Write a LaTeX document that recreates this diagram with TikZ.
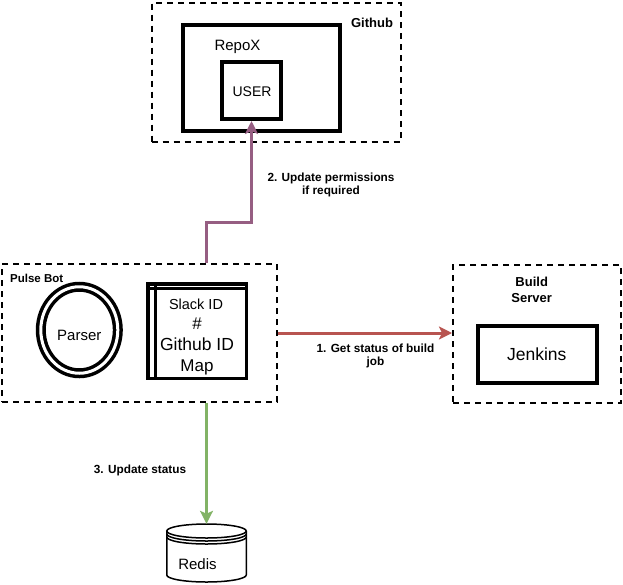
\documentclass[tikz,border=0pt]{standalone}
\usepackage{fontspec}
\setmainfont{Liberation Sans}
\usetikzlibrary{arrows.meta,shapes.geometric}
\definecolor{redarrow}{HTML}{B85450}
\definecolor{purplearrow}{RGB}{150,94,130}
\definecolor{greenarrow}{HTML}{82B366}
\begin{document}
\begin{tikzpicture}[x=1pt,y=-1pt,
  grp/.style={draw, rectangle, line width=2pt, dash pattern=on 6pt off 5pt, inner sep=0pt},
  heavybox/.style={draw, rectangle, line width=4pt, inner sep=0pt},
  txt/.style={font=\fontsize{15}{18}\selectfont, anchor=base, inner sep=0pt},
  grplbl/.style={font=\fontsize{13}{16}\selectfont\bfseries, align=center, anchor=base, inner sep=0pt},
  elbl/.style={font=\fontsize{11.8}{12.8}\selectfont\bfseries, align=center, anchor=base, inner sep=0pt},
  conn/.style={line width=3pt, -{Stealth[length=13pt,width=13pt,inset=3pt]}}
]
\useasboundingbox (0,0) rectangle (623,584);

% groups
\node[grp, minimum width=249, minimum height=139] (github) at (276,72) {};
\node[grp, minimum width=275, minimum height=138] (pulsebot) at (139.5,333) {};
\node[grp, minimum width=168, minimum height=138] (buildsrv) at (537,334) {};

% Github contents
\node[heavybox, minimum width=157, minimum height=106] (repox) at (261.5,78) {};
\node[heavybox, minimum width=59, minimum height=57] (user) at (251.5,90.5) {};
\node[grplbl] (githublbl) at (372,27.5) {Github};
\node[txt] (repoxtxt) at (237.5,50) {RepoX};
\node[txt, font=\fontsize{14}{17}\selectfont] (usertxt) at (252,96) {USER};

% Pulse Bot contents
\node[grplbl, anchor=base west, font=\fontsize{11.5}{14}\selectfont\bfseries] (pulselbl) at (10,282.3) {Pulse Bot};
\node[draw, ellipse, line width=3.5pt, double, double distance=3pt, minimum width=77, minimum height=86.5, inner sep=0pt] (parser) at (79.3,330) {};
\node[txt] (parsertxt) at (79.3,340) {Parser};
\node[draw, rectangle, line width=3.5pt, minimum width=98.5, minimum height=94.5, inner sep=0pt] (map) at (197,331) {};
\draw[line width=3.5pt] (155.3,283.75) -- (155.3,378.25);
\draw[line width=3.5pt] (147.75,288.7) -- (246.25,288.7);
\node[txt, font=\fontsize{14.5}{17}\selectfont] (slack) at (196,309.3) {Slack ID};
\node[txt, font=\fontsize{17}{20}\selectfont] (hash) at (197,329) {\#};
\node[txt, font=\fontsize{17.5}{20}\selectfont] (ghid) at (197,350.7) {Github ID};
\node[txt, font=\fontsize{17}{20}\selectfont] (maptxt) at (197,371) {Map};

% Build server contents
\node[grplbl] (buildlbl) at (531.7,302.7) {Build\\Server};
\node[heavybox, minimum width=119, minimum height=57] (jenkins) at (537.5,354.5) {};
\node[txt, font=\fontsize{17.5}{20}\selectfont] (jenkinstxt) at (536.7,360) {Jenkins};

% Redis
\node[rectangle, minimum width=80, minimum height=58, inner sep=0pt] (redis) at (206.5,553) {};
\draw[line width=1.5pt] (206.5,531) ellipse [x radius=39.75pt, y radius=7pt];
\draw[line width=1.5pt] (166.75,531) -- (166.75,575) arc[start angle=180, end angle=0, x radius=39.75, y radius=7] -- (246.25,531);
\draw[line width=1.5pt] (166.75,534) arc[start angle=180, end angle=0, x radius=39.75, y radius=7];
\draw[line width=1.5pt] (166.75,537) arc[start angle=180, end angle=0, x radius=39.75, y radius=7];
\node[txt] (redistxt) at (197.5,569.3) {Redis};

% connectors
\draw[conn, redarrow] (pulsebot.east) -- (pulsebot.east -| buildsrv.west);
\draw[conn, purplearrow] (redis.north |- pulsebot.north) -- ++(0,-41) -| (user.south);
\draw[conn, greenarrow] (redis.north |- pulsebot.south) -- (redis.north);

% connector labels
\node[elbl] (l1) at (375.5,365) {1. Get status of build\\job};
\node[elbl] (l2) at (331,194.3) {2. Update permissions\\if required};
\node[elbl] (l3) at (140,473.3) {3. Update status};
\end{tikzpicture}
\end{document}
